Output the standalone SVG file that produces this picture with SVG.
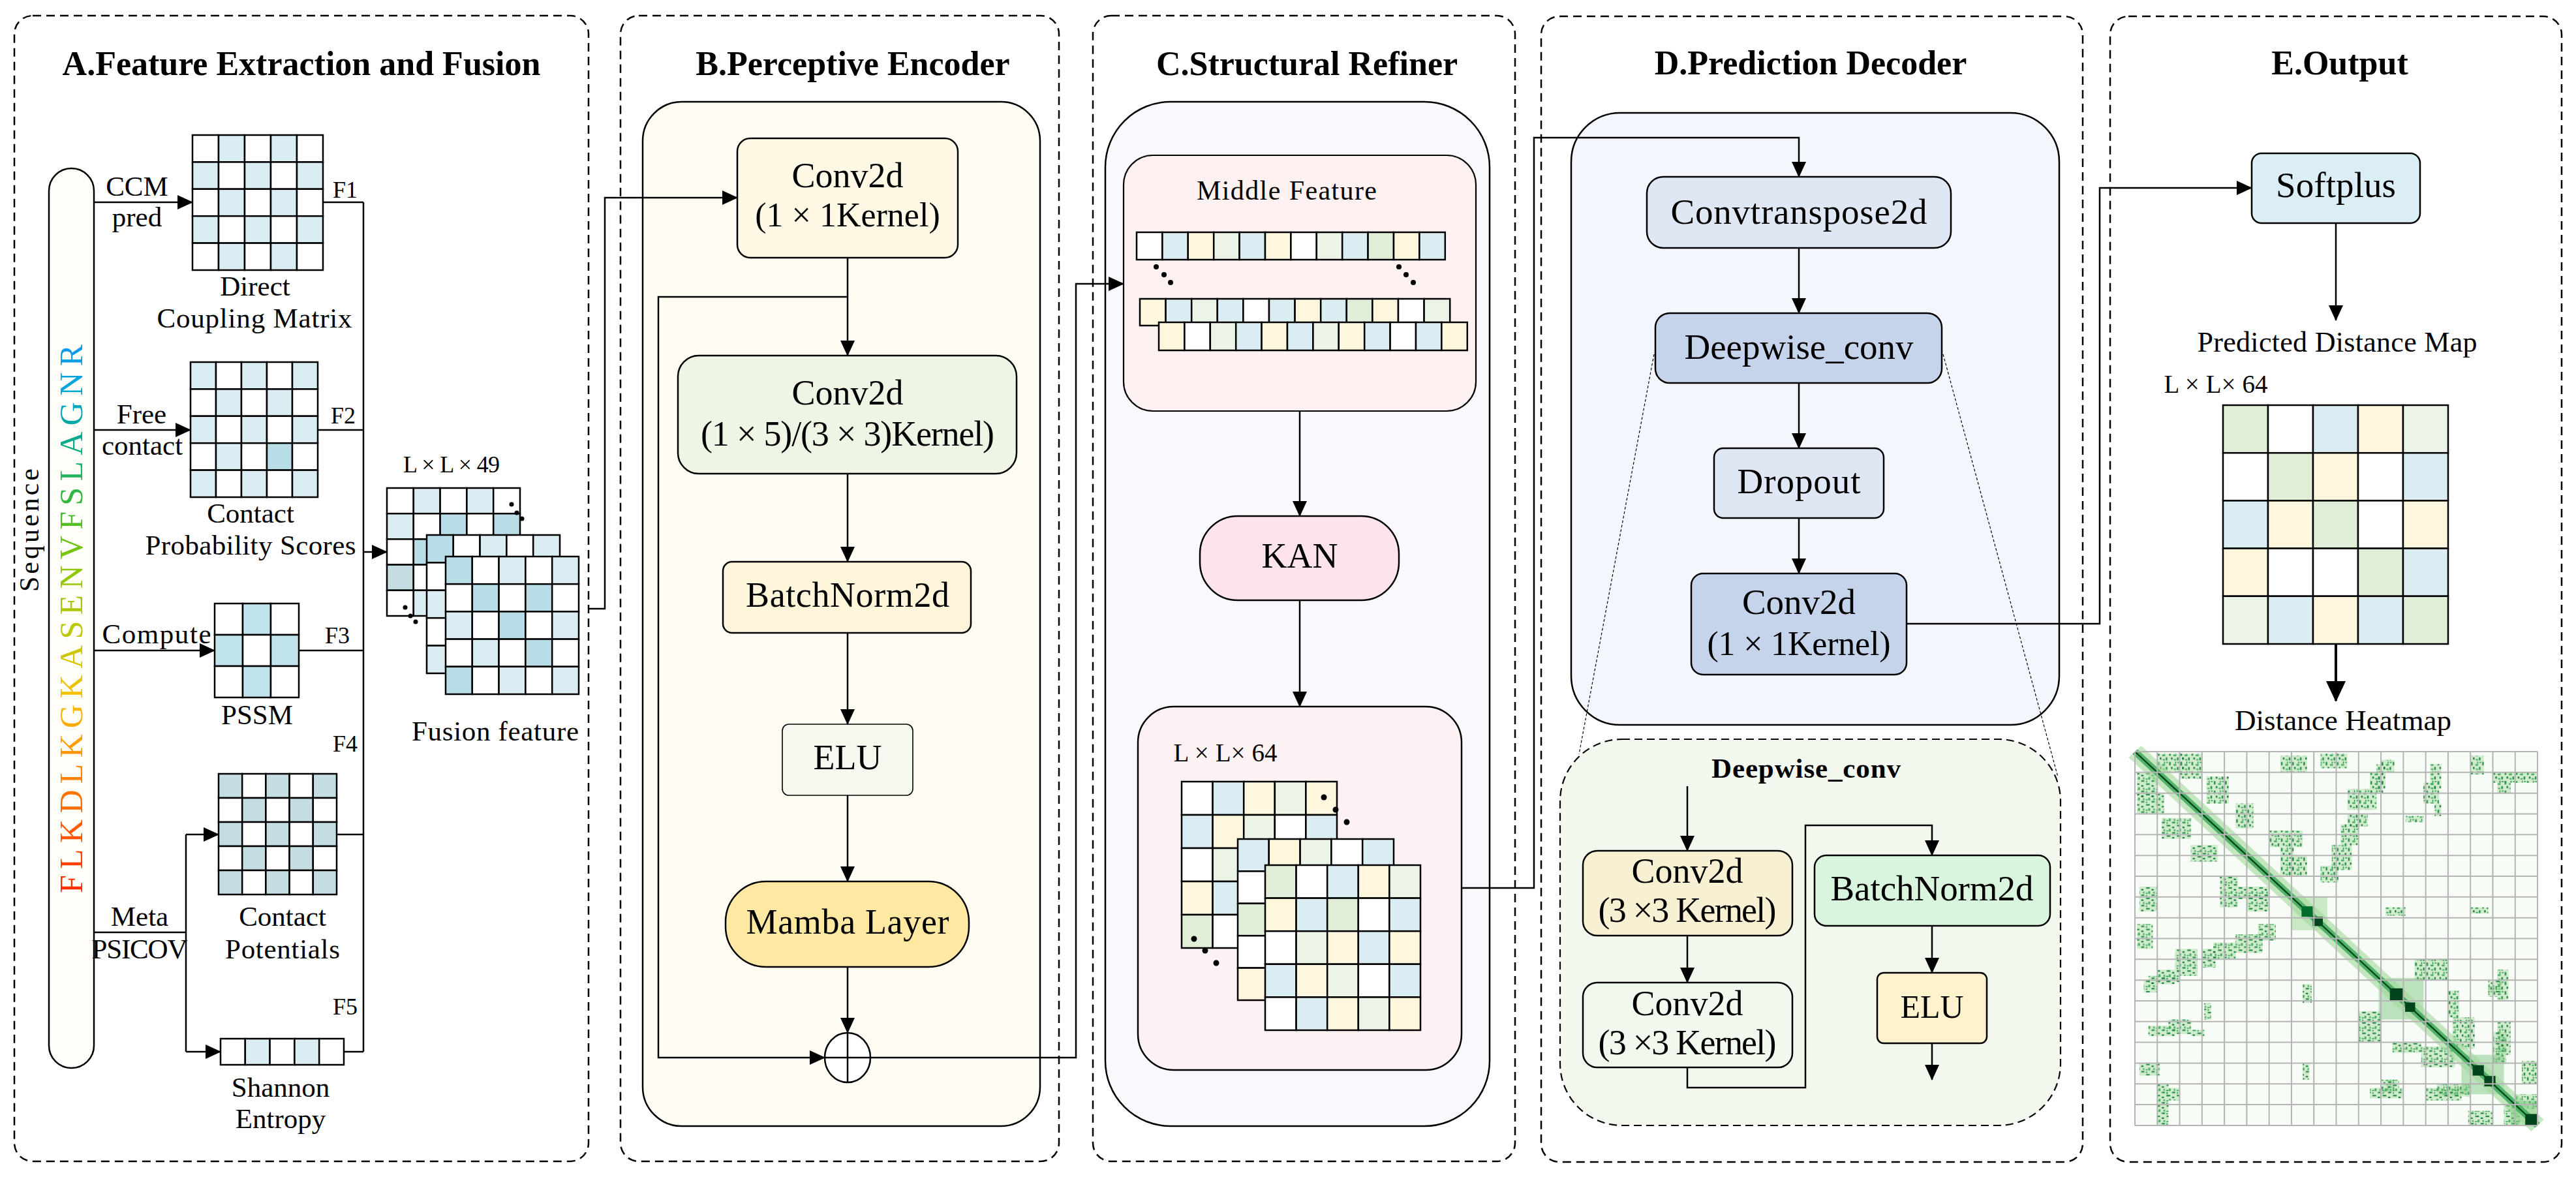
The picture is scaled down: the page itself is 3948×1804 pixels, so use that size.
<svg xmlns="http://www.w3.org/2000/svg" xmlns:xlink="http://www.w3.org/1999/xlink" width="3948" height="1804" viewBox="0 0 3948 1804">
<defs>
<style>
text{font-family:"Liberation Serif","Times New Roman",serif;fill:#000}
.title{font-weight:bold;font-size:52px;text-anchor:middle}
.la{font-size:43px;text-anchor:middle}
.lf{font-size:36px}
.lb{font-size:54px;text-anchor:middle}
.ld{font-size:55px;text-anchor:middle}
.panel{fill:#fff;stroke:#000;stroke-width:2.5;stroke-dasharray:13 8}
.box{stroke:#000;stroke-width:2.5}
.cells rect{stroke:#000;stroke-width:2.5}
.w{fill:#fff}.b{fill:#daedf2}.b2{fill:#b8dde6}.gb{fill:#c3dde2}
.y{fill:#fef7dd}.g{fill:#ebf4e6}.g2{fill:#e0eed8}
.conn{fill:none;stroke:#000;stroke-width:2.5}
.arr{marker-end:url(#ah)}
.dot{fill:#000}
</style>
<marker id="ah" markerUnits="userSpaceOnUse" markerWidth="24" markerHeight="22" refX="23" refY="11" orient="auto"><path d="M0,0L24,11L0,22z" fill="#000"/></marker>
<marker id="ahL" markerUnits="userSpaceOnUse" markerWidth="32" markerHeight="30" refX="30" refY="15" orient="auto"><path d="M0,0L32,15L0,30z" fill="#000"/></marker>
<linearGradient id="seqGrad" x1="0" y1="0" x2="1" y2="0">
<stop offset="0" stop-color="#ff2a00"/>
<stop offset="0.12" stop-color="#ff5a00"/>
<stop offset="0.28" stop-color="#ffa000"/>
<stop offset="0.36" stop-color="#f5c000"/>
<stop offset="0.45" stop-color="#c8c800"/>
<stop offset="0.6" stop-color="#88c800"/>
<stop offset="0.72" stop-color="#30b840"/>
<stop offset="0.84" stop-color="#00a898"/>
<stop offset="0.92" stop-color="#00a8d8"/>
<stop offset="1" stop-color="#1098f0"/>
</linearGradient>
<pattern id="speck" patternUnits="userSpaceOnUse" width="0.5" height="0.46">
<rect x="0.03" y="0.04" width="0.07" height="0.16" fill="#238b45"/>
<rect x="0.22" y="0.14" width="0.13" height="0.08" fill="#41ab5d"/>
<rect x="0.38" y="0.28" width="0.07" height="0.14" fill="#238b45"/>
<rect x="0.12" y="0.28" width="0.06" height="0.1" fill="#006d2c"/>
<rect x="0.4" y="0.03" width="0.08" height="0.06" fill="#41ab5d"/>
<rect x="0.24" y="0.36" width="0.1" height="0.06" fill="#41ab5d"/>
<rect x="0.3" y="0.02" width="0.04" height="0.1" fill="#238b45"/>
</pattern>
</defs>

<!-- Panels -->
<g id="panelA"><rect x="22" y="24" width="880" height="1756" rx="28" class="panel"/>
<text x="462" y="115" class="title">A.Feature Extraction and Fusion</text></g>
<g id="panelB"><rect x="951" y="24" width="672" height="1756" rx="28" class="panel"/>
<text x="1307" y="115" class="title">B.Perceptive Encoder</text></g>
<g id="panelC"><rect x="1675" y="24" width="647" height="1756" rx="28" class="panel"/>
<text x="2003" y="115" class="title">C.Structural Refiner</text></g>
<g id="panelD"><rect x="2362" y="25" width="830" height="1756" rx="28" class="panel"/>
<text x="2775" y="114" class="title">D.Prediction Decoder</text></g>
<g id="panelE"><rect x="3234" y="25" width="692" height="1756" rx="28" class="panel"/>
<text x="3586" y="114" class="title">E.Output</text></g>

<!-- Panel A -->
<g id="sequence">
<rect x="75" y="258" width="69" height="1379" rx="34.5" fill="#fffdf8" class="box"/>
<text transform="translate(126,1369) rotate(-90)" style="font-size:50px;fill:url(#seqGrad)" textLength="841">FLKDLKGKASENVFSLAGNR</text>
<text transform="translate(59,907) rotate(-90)" style="font-size:42px" textLength="189">Sequence</text>
</g>
<g id="dcm" class="cells">
<rect x="295" y="207" width="40" height="41.4" class="w"/><rect x="335" y="207" width="40" height="41.4" class="b"/><rect x="375" y="207" width="40" height="41.4" class="w"/><rect x="415" y="207" width="40" height="41.4" class="b"/><rect x="455" y="207" width="40" height="41.4" class="w"/>
<rect x="295" y="248.4" width="40" height="41.4" class="b"/><rect x="335" y="248.4" width="40" height="41.4" class="w"/><rect x="375" y="248.4" width="40" height="41.4" class="b"/><rect x="415" y="248.4" width="40" height="41.4" class="w"/><rect x="455" y="248.4" width="40" height="41.4" class="b"/>
<rect x="295" y="289.8" width="40" height="41.4" class="w"/><rect x="335" y="289.8" width="40" height="41.4" class="b"/><rect x="375" y="289.8" width="40" height="41.4" class="w"/><rect x="415" y="289.8" width="40" height="41.4" class="b"/><rect x="455" y="289.8" width="40" height="41.4" class="w"/>
<rect x="295" y="331.2" width="40" height="41.4" class="b"/><rect x="335" y="331.2" width="40" height="41.4" class="w"/><rect x="375" y="331.2" width="40" height="41.4" class="b"/><rect x="415" y="331.2" width="40" height="41.4" class="w"/><rect x="455" y="331.2" width="40" height="41.4" class="b"/>
<rect x="295" y="372.6" width="40" height="41.4" class="w"/><rect x="335" y="372.6" width="40" height="41.4" class="b"/><rect x="375" y="372.6" width="40" height="41.4" class="w"/><rect x="415" y="372.6" width="40" height="41.4" class="b"/><rect x="455" y="372.6" width="40" height="41.4" class="w"/>
</g>
<g id="dcmLabel"><text x="391" y="453" class="la">Direct</text><text x="390" y="502" class="la" textLength="299">Coupling Matrix</text></g>

<g id="cps" class="cells">
<rect x="292" y="555" width="39" height="41.4" class="b"/><rect x="331" y="555" width="39" height="41.4" class="w"/><rect x="370" y="555" width="39" height="41.4" class="b"/><rect x="409" y="555" width="39" height="41.4" class="w"/><rect x="448" y="555" width="39" height="41.4" class="b"/>
<rect x="292" y="596.4" width="39" height="41.4" class="w"/><rect x="331" y="596.4" width="39" height="41.4" class="b"/><rect x="370" y="596.4" width="39" height="41.4" class="w"/><rect x="409" y="596.4" width="39" height="41.4" class="b"/><rect x="448" y="596.4" width="39" height="41.4" class="w"/>
<rect x="292" y="637.8" width="39" height="41.4" class="b"/><rect x="331" y="637.8" width="39" height="41.4" class="w"/><rect x="370" y="637.8" width="39" height="41.4" class="b"/><rect x="409" y="637.8" width="39" height="41.4" class="w"/><rect x="448" y="637.8" width="39" height="41.4" class="b"/>
<rect x="292" y="679.2" width="39" height="41.4" class="w"/><rect x="331" y="679.2" width="39" height="41.4" class="b"/><rect x="370" y="679.2" width="39" height="41.4" class="w"/><rect x="409" y="679.2" width="39" height="41.4" class="b2"/><rect x="448" y="679.2" width="39" height="41.4" class="w"/>
<rect x="292" y="720.6" width="39" height="41.4" class="b"/><rect x="331" y="720.6" width="39" height="41.4" class="w"/><rect x="370" y="720.6" width="39" height="41.4" class="b"/><rect x="409" y="720.6" width="39" height="41.4" class="w"/><rect x="448" y="720.6" width="39" height="41.4" class="b"/>
</g>
<g id="cpsLabel"><text x="384" y="801" class="la">Contact</text><text x="384" y="850" class="la" textLength="323">Probability Scores</text></g>

<g id="pssm" class="cells">
<rect x="329" y="925" width="43" height="48" class="w"/><rect x="372" y="925" width="43" height="48" style="fill:#c0e3ec"/><rect x="415" y="925" width="43" height="48" class="w"/>
<rect x="329" y="973" width="43" height="48" style="fill:#c0e3ec"/><rect x="372" y="973" width="43" height="48" class="w"/><rect x="415" y="973" width="43" height="48" style="fill:#c0e3ec"/>
<rect x="329" y="1021" width="43" height="48" class="w"/><rect x="372" y="1021" width="43" height="48" style="fill:#c0e3ec"/><rect x="415" y="1021" width="43" height="48" class="w"/>
</g>
<g id="pssmLabel"><text x="394" y="1110" class="la">PSSM</text></g>

<g id="cpot" class="cells">
<rect x="335" y="1186" width="36.2" height="37" class="gb"/><rect x="371.2" y="1186" width="36.2" height="37" class="w"/><rect x="407.4" y="1186" width="36.2" height="37" class="gb"/><rect x="443.6" y="1186" width="36.2" height="37" class="w"/><rect x="479.8" y="1186" width="36.2" height="37" class="gb"/>
<rect x="335" y="1223" width="36.2" height="37" class="w"/><rect x="371.2" y="1223" width="36.2" height="37" class="gb"/><rect x="407.4" y="1223" width="36.2" height="37" class="w"/><rect x="443.6" y="1223" width="36.2" height="37" class="gb"/><rect x="479.8" y="1223" width="36.2" height="37" class="w"/>
<rect x="335" y="1260" width="36.2" height="37" class="gb"/><rect x="371.2" y="1260" width="36.2" height="37" class="w"/><rect x="407.4" y="1260" width="36.2" height="37" class="gb"/><rect x="443.6" y="1260" width="36.2" height="37" class="w"/><rect x="479.8" y="1260" width="36.2" height="37" class="gb"/>
<rect x="335" y="1297" width="36.2" height="37" class="w"/><rect x="371.2" y="1297" width="36.2" height="37" class="gb"/><rect x="407.4" y="1297" width="36.2" height="37" class="w"/><rect x="443.6" y="1297" width="36.2" height="37" class="gb"/><rect x="479.8" y="1297" width="36.2" height="37" class="w"/>
<rect x="335" y="1334" width="36.2" height="37" class="gb"/><rect x="371.2" y="1334" width="36.2" height="37" class="w"/><rect x="407.4" y="1334" width="36.2" height="37" class="gb"/><rect x="443.6" y="1334" width="36.2" height="37" class="w"/><rect x="479.8" y="1334" width="36.2" height="37" class="gb"/>
</g>
<g id="cpotLabel"><text x="433" y="1419" class="la">Contact</text><text x="433" y="1469" class="la" textLength="176">Potentials</text></g>

<g id="shannon" class="cells">
<rect x="338" y="1592" width="37.8" height="40" class="w"/><rect x="375.8" y="1592" width="37.8" height="40" class="b"/><rect x="413.6" y="1592" width="37.8" height="40" class="w"/><rect x="451.4" y="1592" width="37.8" height="40" class="b"/><rect x="489.2" y="1592" width="37.8" height="40" class="w"/>
</g>
<g id="shannonLabel"><text x="430" y="1681" class="la">Shannon</text><text x="430" y="1729" class="la">Entropy</text></g>

<g id="fusion">
<text x="692" y="724" class="lf" text-anchor="middle" textLength="148">L × L × 49</text>
<g class="cells">
<rect x="593" y="748" width="40.8" height="39.2" class="w"/><rect x="633.8" y="748" width="40.8" height="39.2" class="b"/><rect x="674.6" y="748" width="40.8" height="39.2" class="w"/><rect x="715.4" y="748" width="40.8" height="39.2" class="b"/><rect x="756.2" y="748" width="40.8" height="39.2" class="w"/>
<rect x="593" y="787.2" width="40.8" height="39.2" class="b"/><rect x="633.8" y="787.2" width="40.8" height="39.2" class="w"/><rect x="674.6" y="787.2" width="40.8" height="39.2" class="b2"/><rect x="715.4" y="787.2" width="40.8" height="39.2" class="w"/><rect x="756.2" y="787.2" width="40.8" height="39.2" class="b2"/>
<rect x="593" y="826.4" width="40.8" height="39.2" class="w"/><rect x="633.8" y="826.4" width="40.8" height="39.2" class="b2"/>
<rect x="593" y="865.6" width="40.8" height="39.2" class="gb"/><rect x="633.8" y="865.6" width="40.8" height="39.2" class="w"/>
<rect x="593" y="904.8" width="40.8" height="39.2" class="w"/><rect x="633.8" y="904.8" width="40.8" height="39.2" class="b"/>
</g>
<circle cx="784" cy="773" r="3.5" class="dot"/><circle cx="792" cy="786" r="3.5" class="dot"/><circle cx="800" cy="795" r="3.5" class="dot"/>
<circle cx="621" cy="931" r="3.5" class="dot"/><circle cx="629" cy="944" r="3.5" class="dot"/><circle cx="637" cy="953" r="3.5" class="dot"/>
<g class="cells">
<rect x="654" y="820" width="40.8" height="42.4" class="b2"/><rect x="694.8" y="820" width="40.8" height="42.4" class="w"/><rect x="735.6" y="820" width="40.8" height="42.4" class="b"/><rect x="776.4" y="820" width="40.8" height="42.4" class="w"/><rect x="817.2" y="820" width="40.8" height="42.4" class="b"/>
<rect x="654" y="862.4" width="40.8" height="42.4" class="w"/><rect x="654" y="904.8" width="40.8" height="42.4" class="b"/><rect x="654" y="947.2" width="40.8" height="42.4" class="w"/><rect x="654" y="989.6" width="40.8" height="42.4" class="b"/>
</g>
<g class="cells">
<rect x="683" y="853" width="40.8" height="42.2" class="b2"/><rect x="723.8" y="853" width="40.8" height="42.2" class="w"/><rect x="764.6" y="853" width="40.8" height="42.2" class="b"/><rect x="805.4" y="853" width="40.8" height="42.2" class="w"/><rect x="846.2" y="853" width="40.8" height="42.2" class="b"/>
<rect x="683" y="895.2" width="40.8" height="42.2" class="w"/><rect x="723.8" y="895.2" width="40.8" height="42.2" class="b2"/><rect x="764.6" y="895.2" width="40.8" height="42.2" class="w"/><rect x="805.4" y="895.2" width="40.8" height="42.2" class="b2"/><rect x="846.2" y="895.2" width="40.8" height="42.2" class="w"/>
<rect x="683" y="937.4" width="40.8" height="42.2" class="b"/><rect x="723.8" y="937.4" width="40.8" height="42.2" class="w"/><rect x="764.6" y="937.4" width="40.8" height="42.2" class="b2"/><rect x="805.4" y="937.4" width="40.8" height="42.2" class="w"/><rect x="846.2" y="937.4" width="40.8" height="42.2" class="b"/>
<rect x="683" y="979.6" width="40.8" height="42.2" class="w"/><rect x="723.8" y="979.6" width="40.8" height="42.2" class="b"/><rect x="764.6" y="979.6" width="40.8" height="42.2" class="w"/><rect x="805.4" y="979.6" width="40.8" height="42.2" class="b2"/><rect x="846.2" y="979.6" width="40.8" height="42.2" class="w"/>
<rect x="683" y="1021.8" width="40.8" height="42.2" class="b2"/><rect x="723.8" y="1021.8" width="40.8" height="42.2" class="w"/><rect x="764.6" y="1021.8" width="40.8" height="42.2" class="b"/><rect x="805.4" y="1021.8" width="40.8" height="42.2" class="w"/><rect x="846.2" y="1021.8" width="40.8" height="42.2" class="b"/>
</g>
<text x="759" y="1135" class="la" textLength="256">Fusion feature</text>
</g>

<g id="labelsA">
<text x="210" y="300" class="la">CCM</text><text x="210" y="347" class="la">pred</text>
<text x="217" y="649" class="la">Free</text><text x="218" y="697" class="la">contact</text>
<text x="240" y="986" class="la" textLength="167">Compute</text>
<text x="214" y="1419" class="la">Meta</text><text x="214" y="1469" class="la" textLength="147">PSICOV</text>
<text x="510" y="303" class="lf">F1</text><text x="507" y="649" class="lf">F2</text><text x="498" y="986" class="lf">F3</text><text x="510" y="1152" class="lf">F4</text><text x="510" y="1555" class="lf">F5</text>
</g>

<!-- Panel B -->
<g id="encoderBox"><rect x="985" y="156" width="609" height="1570" rx="60" fill="#fffcf4" class="box"/></g>
<g id="conv1x1"><rect x="1130" y="212" width="338" height="183" rx="20" fill="#fef8e4" class="box"/>
<text x="1299" y="287" class="lb">Conv2d</text><text x="1299" y="347" class="lb" style="font-size:52px">(1 × 1Kernel)</text></g>
<g id="conv1x5"><rect x="1039" y="545" width="519" height="181" rx="32" fill="#eef5e5" class="box"/>
<text x="1299" y="620" class="lb">Conv2d</text><text x="1299" y="683" class="lb" textLength="450">(1 × 5)/(3 × 3)Kernel)</text></g>
<g id="batchnormB"><rect x="1108" y="861" width="380" height="109" rx="14" fill="#fff5da" class="box"/>
<text x="1299" y="930" class="lb" textLength="312">BatchNorm2d</text></g>
<g id="eluB"><rect x="1199" y="1110" width="200" height="109" rx="10" fill="#f4f8ef" stroke="#000" stroke-width="1.6"/>
<text x="1299" y="1179" class="lb">ELU</text></g>
<g id="mamba"><rect x="1112" y="1351" width="373" height="131" rx="62" fill="#ffe8a1" class="box"/>
<text x="1299" y="1431" class="lb" textLength="311">Mamba Layer</text></g>
<g id="addB"><ellipse cx="1299" cy="1621" rx="35" ry="38" fill="#fff" class="box"/>
<path d="M1264 1621H1334M1299 1583V1659" class="conn"/></g>

<!-- Panel C -->
<g id="refinerBox"><rect x="1694" y="156" width="589" height="1570" rx="100" fill="#f9f8fd" class="box"/></g>
<g id="middleFeature"><rect x="1722" y="238" width="540" height="392" rx="45" fill="#fdf1f1" stroke="#000" stroke-width="2.2"/>
<text x="1972" y="306" style="font-size:42px" text-anchor="middle" textLength="276">Middle Feature</text>
<g class="cells">
<rect x="1742" y="356" width="39.4" height="42" class="w"/><rect x="1781.4" y="356" width="39.4" height="42" class="b"/><rect x="1820.8" y="356" width="39.4" height="42" class="y"/><rect x="1860.2" y="356" width="39.4" height="42" class="g"/><rect x="1899.6" y="356" width="39.4" height="42" class="b"/><rect x="1939" y="356" width="39.4" height="42" class="y"/><rect x="1978.4" y="356" width="39.4" height="42" class="w"/><rect x="2017.8" y="356" width="39.4" height="42" class="g"/><rect x="2057.2" y="356" width="39.4" height="42" class="b"/><rect x="2096.6" y="356" width="39.4" height="42" class="g2"/><rect x="2136" y="356" width="39.4" height="42" class="y"/><rect x="2175.4" y="356" width="39.4" height="42" class="b"/>
<rect x="1747" y="458" width="39.6" height="41" class="y"/><rect x="1786.6" y="458" width="39.6" height="41" class="b"/><rect x="1826.2" y="458" width="39.6" height="41" class="g"/><rect x="1865.8" y="458" width="39.6" height="41" class="b"/><rect x="1905.4" y="458" width="39.6" height="41" class="w"/><rect x="1945" y="458" width="39.6" height="41" class="b"/><rect x="1984.6" y="458" width="39.6" height="41" class="y"/><rect x="2024.2" y="458" width="39.6" height="41" class="b"/><rect x="2063.8" y="458" width="39.6" height="41" class="g2"/><rect x="2103.4" y="458" width="39.6" height="41" class="y"/><rect x="2143" y="458" width="39.6" height="41" class="w"/><rect x="2182.6" y="458" width="39.6" height="41" class="g"/>
<rect x="1776" y="494" width="39.4" height="43" class="y"/><rect x="1815.4" y="494" width="39.4" height="43" class="w"/><rect x="1854.8" y="494" width="39.4" height="43" class="g"/><rect x="1894.2" y="494" width="39.4" height="43" class="b"/><rect x="1933.6" y="494" width="39.4" height="43" class="y"/><rect x="1973" y="494" width="39.4" height="43" class="b"/><rect x="2012.4" y="494" width="39.4" height="43" class="g"/><rect x="2051.8" y="494" width="39.4" height="43" class="y"/><rect x="2091.2" y="494" width="39.4" height="43" class="b"/><rect x="2130.6" y="494" width="39.4" height="43" class="w"/><rect x="2170" y="494" width="39.4" height="43" class="b"/><rect x="2209.4" y="494" width="39.4" height="43" class="y"/>
</g>
<circle cx="1772" cy="409" r="4" class="dot"/><circle cx="1784" cy="421" r="4" class="dot"/><circle cx="1794" cy="433" r="4" class="dot"/>
<circle cx="2144" cy="409" r="4" class="dot"/><circle cx="2155" cy="421" r="4" class="dot"/><circle cx="2166" cy="433" r="4" class="dot"/>
</g>
<g id="kan"><rect x="1839" y="791" width="305" height="129" rx="58" fill="#fde4ec" class="box"/>
<text x="1992" y="870" class="lb">KAN</text></g>
<g id="outFeatureC"><rect x="1744" y="1083" width="496" height="557" rx="55" fill="#fdf2f3" class="box"/>
<text x="1878" y="1167" style="font-size:39px" text-anchor="middle" textLength="159">L × L× 64</text>
<g class="cells">
<rect x="1811" y="1198" width="47.6" height="51" class="w"/><rect x="1858.6" y="1198" width="47.6" height="51" class="b"/><rect x="1906.2" y="1198" width="47.6" height="51" class="y"/><rect x="1953.8" y="1198" width="47.6" height="51" class="g"/><rect x="2001.4" y="1198" width="47.6" height="51" class="y"/>
<rect x="1811" y="1249" width="47.6" height="51" class="b"/><rect x="1858.6" y="1249" width="47.6" height="51" class="y"/><rect x="1906.2" y="1249" width="47.6" height="51" class="g"/><rect x="1953.8" y="1249" width="47.6" height="51" class="w"/><rect x="2001.4" y="1249" width="47.6" height="51" class="b"/>
<rect x="1811" y="1300" width="47.6" height="51" class="w"/><rect x="1858.6" y="1300" width="47.6" height="51" class="g"/>
<rect x="1811" y="1351" width="47.6" height="51" class="y"/><rect x="1858.6" y="1351" width="47.6" height="51" class="b"/>
<rect x="1811" y="1402" width="47.6" height="51" class="g2"/><rect x="1858.6" y="1402" width="47.6" height="51" class="w"/>
</g>
<circle cx="2029" cy="1222" r="4.5" class="dot"/><circle cx="2047" cy="1241" r="4.5" class="dot"/><circle cx="2064" cy="1260" r="4.5" class="dot"/>
<circle cx="1830" cy="1439" r="4.5" class="dot"/><circle cx="1847" cy="1457" r="4.5" class="dot"/><circle cx="1864" cy="1476" r="4.5" class="dot"/>
<g class="cells">
<rect x="1897" y="1286" width="47.8" height="49.4" class="b"/><rect x="1944.8" y="1286" width="47.8" height="49.4" class="y"/><rect x="1992.6" y="1286" width="47.8" height="49.4" class="g"/><rect x="2040.4" y="1286" width="47.8" height="49.4" class="w"/><rect x="2088.2" y="1286" width="47.8" height="49.4" class="b"/>
<rect x="1897" y="1335.4" width="47.8" height="49.4" class="w"/><rect x="1897" y="1384.8" width="47.8" height="49.4" class="g2"/><rect x="1897" y="1434.2" width="47.8" height="49.4" class="w"/><rect x="1897" y="1483.6" width="47.8" height="49.4" class="y"/>
</g>
<g class="cells">
<rect x="1939" y="1326" width="47.6" height="50.6" class="g2"/><rect x="1986.6" y="1326" width="47.6" height="50.6" class="w"/><rect x="2034.2" y="1326" width="47.6" height="50.6" class="b"/><rect x="2081.8" y="1326" width="47.6" height="50.6" class="y"/><rect x="2129.4" y="1326" width="47.6" height="50.6" class="g"/>
<rect x="1939" y="1376.6" width="47.6" height="50.6" class="y"/><rect x="1986.6" y="1376.6" width="47.6" height="50.6" class="b"/><rect x="2034.2" y="1376.6" width="47.6" height="50.6" class="g2"/><rect x="2081.8" y="1376.6" width="47.6" height="50.6" class="w"/><rect x="2129.4" y="1376.6" width="47.6" height="50.6" class="b"/>
<rect x="1939" y="1427.2" width="47.6" height="50.6" class="w"/><rect x="1986.6" y="1427.2" width="47.6" height="50.6" class="g"/><rect x="2034.2" y="1427.2" width="47.6" height="50.6" class="y"/><rect x="2081.8" y="1427.2" width="47.6" height="50.6" class="b"/><rect x="2129.4" y="1427.2" width="47.6" height="50.6" class="y"/>
<rect x="1939" y="1477.8" width="47.6" height="50.6" class="b"/><rect x="1986.6" y="1477.8" width="47.6" height="50.6" class="y"/><rect x="2034.2" y="1477.8" width="47.6" height="50.6" class="g"/><rect x="2081.8" y="1477.8" width="47.6" height="50.6" class="w"/><rect x="2129.4" y="1477.8" width="47.6" height="50.6" class="b"/>
<rect x="1939" y="1528.4" width="47.6" height="50.6" class="w"/><rect x="1986.6" y="1528.4" width="47.6" height="50.6" class="b"/><rect x="2034.2" y="1528.4" width="47.6" height="50.6" class="y"/><rect x="2081.8" y="1528.4" width="47.6" height="50.6" class="g"/><rect x="2129.4" y="1528.4" width="47.6" height="50.6" class="y"/>
</g>
</g>

<!-- Panel D -->
<g id="decoderBox"><rect x="2408" y="173" width="748" height="938" rx="75" fill="#f3f6fd" class="box"/></g>
<g id="convT"><rect x="2524" y="271" width="466" height="109" rx="25" fill="#e0e7f4" class="box"/>
<text x="2757" y="343" class="ld" textLength="393">Convtranspose2d</text></g>
<g id="deepwiseD"><rect x="2537" y="480" width="439" height="107" rx="22" fill="#c5d3eb" class="box"/>
<text x="2757" y="550" class="ld" textLength="351">Deepwise_conv</text></g>
<g id="dropout"><rect x="2627" y="687" width="260" height="107" rx="14" fill="#e0e7f4" class="box"/>
<text x="2757" y="756" class="ld" textLength="189">Dropout</text></g>
<g id="conv1x1D"><rect x="2592" y="879" width="330" height="155" rx="18" fill="#c5d3eb" class="box"/>
<text x="2757" y="941" class="ld">Conv2d</text><text x="2757" y="1004" class="ld" style="font-size:52px" textLength="281">(1 × 1Kernel)</text></g>
<g id="deepwiseDetail"><rect x="2391" y="1133" width="767" height="592" rx="95" fill="#f3f8ef" stroke="#000" stroke-width="2.2" stroke-dasharray="12 7"/>
<text x="2768" y="1192" style="font-size:43px;font-weight:bold" text-anchor="middle" textLength="290">Deepwise_conv</text></g>
<g id="conv3a"><rect x="2426" y="1304" width="321" height="130" rx="22" fill="#f8f0d3" class="box"/>
<text x="2586" y="1353" class="lb">Conv2d</text><text x="2586" y="1413" class="lb" textLength="273">(3 ×3 Kernel)</text></g>
<g id="conv3b"><rect x="2426" y="1506" width="321" height="130" rx="22" fill="#f1f8ee" class="box"/>
<text x="2586" y="1556" class="lb">Conv2d</text><text x="2586" y="1616" class="lb" textLength="273">(3 ×3 Kernel)</text></g>
<g id="batchnormD"><rect x="2781" y="1311" width="361" height="108" rx="18" fill="#daf5dd" class="box"/>
<text x="2961" y="1380" class="ld" textLength="311">BatchNorm2d</text></g>
<g id="eluD"><rect x="2877" y="1491" width="168" height="108" rx="10" fill="#fff2cd" class="box"/>
<text x="2961" y="1560" class="lb" style="font-size:50px">ELU</text></g>

<!-- Panel E -->
<g id="softplus"><rect x="3451" y="235" width="258" height="107" rx="15" fill="#dbeef5" class="box"/>
<text x="3580" y="302" class="ld" textLength="184">Softplus</text></g>
<g id="predMap">
<text x="3582" y="539" style="font-size:44px" text-anchor="middle" textLength="429">Predicted Distance Map</text>
<text x="3396" y="602" style="font-size:39px" text-anchor="middle" textLength="159">L × L× 64</text>
<g class="cells">
<rect x="3407" y="621" width="69" height="73.2" class="g2"/><rect x="3476" y="621" width="69" height="73.2" class="w"/><rect x="3545" y="621" width="69" height="73.2" class="b"/><rect x="3614" y="621" width="69" height="73.2" class="y"/><rect x="3683" y="621" width="69" height="73.2" class="g"/>
<rect x="3407" y="694.2" width="69" height="73.2" class="w"/><rect x="3476" y="694.2" width="69" height="73.2" class="g2"/><rect x="3545" y="694.2" width="69" height="73.2" class="y"/><rect x="3614" y="694.2" width="69" height="73.2" class="w"/><rect x="3683" y="694.2" width="69" height="73.2" class="b"/>
<rect x="3407" y="767.4" width="69" height="73.2" class="b"/><rect x="3476" y="767.4" width="69" height="73.2" class="y"/><rect x="3545" y="767.4" width="69" height="73.2" class="g2"/><rect x="3614" y="767.4" width="69" height="73.2" class="w"/><rect x="3683" y="767.4" width="69" height="73.2" class="y"/>
<rect x="3407" y="840.6" width="69" height="73.2" class="y"/><rect x="3476" y="840.6" width="69" height="73.2" class="w"/><rect x="3545" y="840.6" width="69" height="73.2" class="w"/><rect x="3614" y="840.6" width="69" height="73.2" class="g2"/><rect x="3683" y="840.6" width="69" height="73.2" class="b"/>
<rect x="3407" y="913.8" width="69" height="73.2" class="g"/><rect x="3476" y="913.8" width="69" height="73.2" class="b"/><rect x="3545" y="913.8" width="69" height="73.2" class="y"/><rect x="3614" y="913.8" width="69" height="73.2" class="b"/><rect x="3683" y="913.8" width="69" height="73.2" class="g2"/>
</g>
</g>
<g id="heatmapLabel"><text x="3591" y="1119" style="font-size:45px" text-anchor="middle" textLength="332">Distance Heatmap</text></g>
<g id="heatmap" transform="translate(3272,1152) scale(34.28,31.83)">
<rect x="0" y="0" width="18" height="18" fill="#f8fcf7"/>
<defs>
<g id="hmU">
<rect x="1" y="0.1" width="1.2" height="0.9"/>
<rect x="2" y="0.1" width="1" height="1.2"/>
<rect x="3.2" y="1.2" width="1" height="1.3"/>
<rect x="4.5" y="2.5" width="0.8" height="1.2"/>
<rect x="6.5" y="0.2" width="1.2" height="0.8"/>
<rect x="8.3" y="0.1" width="1.2" height="0.7"/>
<rect x="10.5" y="1" width="0.6" height="1"/>
<rect x="9.5" y="1.8" width="1.3" height="1"/>
<rect x="10.8" y="0.6" width="0.4" height="1.2"/>
<rect x="9.5" y="3" width="0.9" height="0.6"/>
<rect x="6" y="3.8" width="1.5" height="0.8"/>
<rect x="6.5" y="4.6" width="0.6" height="1.4"/>
<rect x="6.9" y="5" width="0.8" height="1"/>
<rect x="9.2" y="3.5" width="0.8" height="1"/>
<rect x="8.8" y="4.5" width="0.9" height="1.2"/>
<rect x="8.3" y="5.5" width="0.8" height="0.8"/>
<rect x="13.2" y="0.6" width="0.5" height="1.2"/>
<rect x="12.9" y="1.5" width="0.7" height="1"/>
<rect x="13.4" y="2.5" width="0.3" height="0.6"/>
<rect x="12.1" y="3.1" width="0.8" height="0.3"/>
<rect x="15" y="0.2" width="0.6" height="0.9"/>
<rect x="16" y="1" width="2" height="0.5"/>
<rect x="16.2" y="1.4" width="0.6" height="0.6"/>
<rect x="11" y="0.4" width="0.6" height="0.6"/>
<rect x="11.2" y="7.5" width="0.9" height="0.4"/>
<rect x="15" y="7.5" width="0.8" height="0.3"/>
<rect x="12.5" y="10" width="1.5" height="1"/>
<rect x="14" y="11.5" width="0.5" height="1.3"/>
<rect x="16.2" y="10.5" width="0.5" height="1.5"/>
<rect x="15.8" y="11.3" width="0.4" height="0.5"/>
<rect x="14.2" y="12.8" width="1" height="1.5"/>
<rect x="16.2" y="13" width="0.6" height="1.6"/>
<rect x="17.3" y="14.9" width="0.7" height="1.1"/>
<rect x="17" y="16.5" width="1" height="0.7"/>
<rect x="13.5" y="16" width="1.5" height="0.6"/>
<rect x="11" y="15.8" width="0.6" height="0.6"/>
</g>
</defs>
<use xlink:href="#hmU" fill="#a1d99b" opacity=".45"/>
<use xlink:href="#hmU" fill="url(#speck)"/>
<use xlink:href="#hmU" fill="#a1d99b" opacity=".45" transform="matrix(0 1 1 0 0 0)"/>
<use xlink:href="#hmU" fill="url(#speck)" transform="matrix(0 1 1 0 0 0)"/>
<rect x="7" y="7" width="1.6" height="1.6" fill="#a1d99b" opacity=".55"/>
<rect x="10.9" y="10.9" width="2" height="2" fill="#74c476" opacity=".45"/>
<rect x="14.6" y="14.6" width="1.9" height="1.9" fill="#74c476" opacity=".45"/>
<rect x="16.8" y="16.8" width="1.2" height="1.2" fill="#74c476" opacity=".5"/>
<line x1="0" y1="0" x2="18" y2="18" stroke="#a1d99b" stroke-width="0.8" opacity=".6"/>
<line x1="0" y1="0" x2="18" y2="18" stroke="#41ab5d" stroke-width="0.32" opacity=".85"/>
<line x1="0" y1="0" x2="18" y2="18" stroke="#00441b" stroke-width="0.07"/>
<rect x="7.45" y="7.45" width="0.5" height="0.5" fill="#006d2c"/>
<rect x="7.95" y="7.95" width="0.45" height="0.45" fill="#00441b"/>
<rect x="11.4" y="11.4" width="0.62" height="0.62" fill="#00441b"/>
<rect x="12.08" y="12.08" width="0.45" height="0.45" fill="#00441b"/>
<rect x="15.1" y="15.1" width="0.5" height="0.5" fill="#00441b"/>
<rect x="15.62" y="15.62" width="0.5" height="0.5" fill="#00441b"/>
<rect x="17.45" y="17.45" width="0.55" height="0.55" fill="#00441b"/>
<path d="M0 0V18M1 0V18M2 0V18M3 0V18M4 0V18M5 0V18M6 0V18M7 0V18M8 0V18M9 0V18M10 0V18M11 0V18M12 0V18M13 0V18M14 0V18M15 0V18M16 0V18M17 0V18M18 0V18M0 0H18M0 1H18M0 2H18M0 3H18M0 4H18M0 5H18M0 6H18M0 7H18M0 8H18M0 9H18M0 10H18M0 11H18M0 12H18M0 13H18M0 14H18M0 15H18M0 16H18M0 17H18M0 18H18" fill="none" stroke="#b4b4b4" stroke-width="2" vector-effect="non-scaling-stroke"/>
</g>

<!-- Connectors -->
<g id="connectors">
<path d="M144 310H295" class="conn arr"/>
<path d="M144 659H292" class="conn arr"/>
<path d="M144 997H329" class="conn arr"/>
<path d="M144 1429H285" class="conn"/>
<path d="M285 1279V1612" class="conn"/>
<path d="M285 1279H335" class="conn arr"/>
<path d="M285 1612H338" class="conn arr"/>
<path d="M495 310H557M487 659H557M458 997H557M516 1279H557M527 1612H557M557 310V1612" class="conn"/>
<path d="M557 846H593" class="conn arr"/>
<path d="M902 933H927V303H1130" class="conn arr"/>
<path d="M1299 395V545" class="conn arr"/>
<path d="M1299 726V861" class="conn arr"/>
<path d="M1299 970V1110" class="conn arr"/>
<path d="M1299 1219V1351" class="conn arr"/>
<path d="M1299 1482V1583" class="conn arr"/>
<path d="M1299 455H1009V1621H1264" class="conn arr"/>
<path d="M1334 1621H1649V435H1722" class="conn arr"/>
<path d="M1992 630V791" class="conn arr"/>
<path d="M1992 920V1083" class="conn arr"/>
<path d="M2240 1361H2351V211H2757V271" class="conn arr"/>
<path d="M2757 380V480" class="conn arr"/>
<path d="M2757 587V687" class="conn arr"/>
<path d="M2757 794V879" class="conn arr"/>
<path d="M2922 956H3218V288H3451" class="conn arr"/>
<path d="M2535 543L2420 1156" fill="none" stroke="#000" stroke-width="1.2" stroke-dasharray="4 3"/>
<path d="M2978 543L3154 1191" fill="none" stroke="#000" stroke-width="1.2" stroke-dasharray="4 3"/>
<path d="M2586 1205V1304" class="conn arr"/>
<path d="M2586 1434V1506" class="conn arr"/>
<path d="M2586 1636V1667H2767V1265H2961V1311" class="conn arr"/>
<path d="M2961 1419V1491" class="conn arr"/>
<path d="M2961 1599V1655" class="conn arr"/>
<path d="M3580 342V491" class="conn arr"/>
<path d="M3580 987V1074" fill="none" stroke="#000" stroke-width="4" marker-end="url(#ahL)"/>
</g>
</svg>
